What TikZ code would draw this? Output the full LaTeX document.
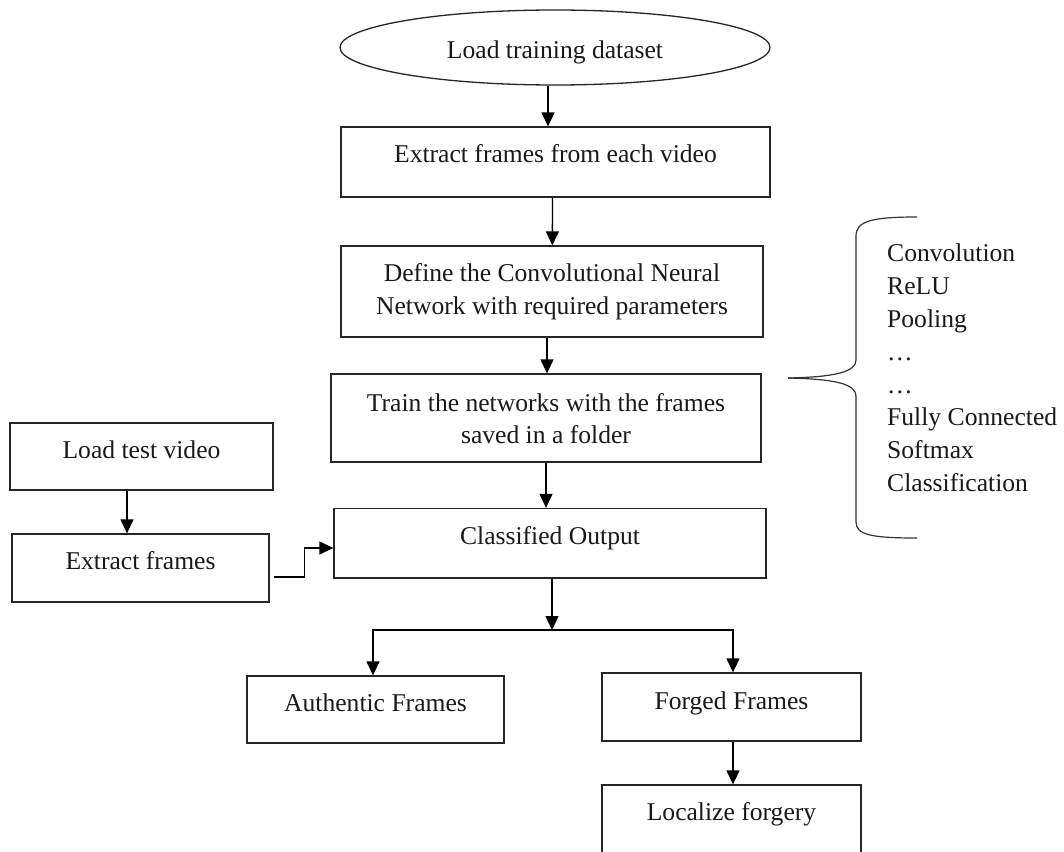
\documentclass[tikz,border=0pt]{standalone}
\usepackage{fontspec}
\setmainfont{Liberation Serif}
\usetikzlibrary{arrows.meta,shapes.geometric}

\begin{document}
\begin{tikzpicture}[x=1pt,y=-1pt,
  every node/.style={font=\fontsize{25.6}{32.5}\selectfont, text=black!90},
  stepbox/.style={draw=black!85, line width=1.3pt, rectangle, inner sep=0pt},
  lbl/.style={anchor=north, align=center, inner sep=0pt, yshift=-18pt},
  arr/.style={draw=black, line width=1.3pt, -{Triangle[length=14pt,width=13pt]}},
  brace/.style={draw=black!80, line width=1.2pt}]

  % canvas
  \fill[white] (0,0) rectangle (1064,851);
  \clip (0,0) rectangle (1064,851);

  % training branch
  \node[ellipse, draw=black!85, line width=1.3pt, inner sep=0pt,
        minimum width=430pt, minimum height=75pt,
        text height=22.4pt, text depth=0pt] (E) at (555,47.5) {Load training dataset};

  \node[stepbox, minimum width=429pt, minimum height=70pt,
        label={[lbl]north:Extract frames from each video}] (A) at (555.5,162) {};

  \node[stepbox, minimum width=422pt, minimum height=91pt,
        label={[lbl]north:Define the Convolutional Neural\\Network with required parameters}] (B) at (552,291.5) {};

  \node[stepbox, minimum width=430pt, minimum height=88pt,
        label={[lbl, yshift=-1.5pt]north:Train the networks with the frames\\saved in a folder}] (C) at (546,418) {};

  \node[stepbox, minimum width=432pt, minimum height=69.5pt,
        label={[lbl]north:Classified Output}] (D) at (550,543.25) {};

  % test branch
  \node[stepbox, minimum width=263pt, minimum height=67pt,
        label={[lbl]north:Load test video}] (L1) at (141.5,456.5) {};

  \node[stepbox, minimum width=257pt, minimum height=68pt,
        label={[lbl]north:Extract frames}] (L2) at (140.5,568) {};

  % outcomes
  \node[stepbox, minimum width=257pt, minimum height=67pt,
        label={[lbl]north:Authentic Frames}] (AF) at (375.5,709.5) {};

  \node[stepbox, minimum width=259pt, minimum height=68pt,
        label={[lbl, yshift=-1pt]north:Forged Frames}] (FF) at (731.5,707) {};

  \node[stepbox, minimum width=259pt, minimum height=90pt,
        label={[lbl]north:Localize forgery}] (LF) at (731.5,830) {};

  % CNN layer list
  \node[anchor=north west, align=left, inner sep=0pt,
        font=\fontsize{25.6}{32.8}\selectfont] (layers) at (887,244)
        {Convolution\\ReLU\\Pooling\\…\\…\\Fully Connected\\Softmax\\Classification};

  \draw[brace] (917,217) .. controls (872,217) and (856,221) .. (856,236)
               -- (856,360) .. controls (856,372) and (835,377) .. (788,378);
  \draw[brace] (788,378) .. controls (835,379) and (856,384) .. (856,396)
               -- (856,522) .. controls (856,535) and (872,538) .. (917,538);

  % connectors
  \draw[arr] ([xshift=-7pt]E.south) -- ([xshift=-7.5pt]A.north);
  \draw[arr] ([xshift=-3pt]A.south) -- ([xshift=0.3pt]B.north);
  \draw[arr] ([xshift=-5pt]B.south) -- ([xshift=1pt]C.north);
  \draw[arr] (C.south) -- ([xshift=-4pt]D.north);

  \draw[arr] ([xshift=-14.5pt]L1.south) -- ([xshift=-13.5pt]L2.north);
  \draw[arr] ([xshift=4pt,yshift=-9pt]L2.east) -- ++(31,0) |- ([yshift=-4.75pt]D.west);

  \coordinate (J) at (552,630);
  \draw[arr] ([xshift=2pt]D.south) -- (J);
  \draw[arr] (J) -| ([xshift=-2.5pt]AF.north);
  \draw[arr] (J) -| ([xshift=1.5pt]FF.north);
  \draw[arr] ([xshift=1.5pt]FF.south) -- ([xshift=1.5pt]LF.north);
\end{tikzpicture}
\end{document}
